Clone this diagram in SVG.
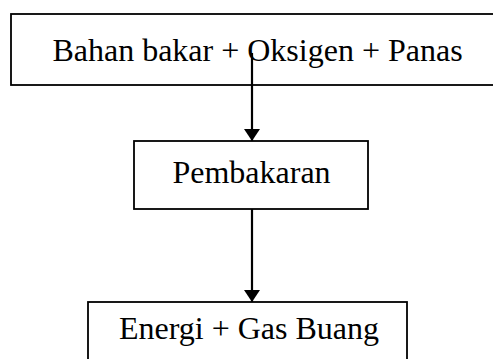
<svg xmlns="http://www.w3.org/2000/svg" width="493" height="359" viewBox="0 0 493 359">
<style>
.box{fill:#fff;stroke:#000;stroke-width:1.8}
.lbl{font-family:"Liberation Serif","Times New Roman",serif;font-size:32px;fill:#000;text-anchor:middle}
.con{stroke:#000;stroke-width:2.2;fill:none}
</style>
<defs>
<marker id="ah" viewBox="0 0 12 16" refX="12" refY="8" markerWidth="12" markerHeight="16" markerUnits="userSpaceOnUse" orient="auto">
<path d="M0,0 L12,8 L0,16 Z" fill="#000"/>
</marker>
</defs>
<g id="n1">
<rect class="box" x="11" y="14" width="490" height="71"/>
<text class="lbl" x="257.5" y="61">Bahan bakar + Oksigen + Panas</text>
</g>
<g id="n2">
<rect class="box" x="134" y="141" width="234" height="68"/>
<text class="lbl" x="251.5" y="183">Pembakaran</text>
</g>
<g id="n3">
<rect class="box" x="88" y="302" width="319" height="70"/>
<text class="lbl" x="249" y="339">Energi + Gas Buang</text>
</g>
<g id="connectors">
<line class="con" x1="252" y1="53" x2="252" y2="141" marker-end="url(#ah)"/>
<line class="con" x1="252" y1="209" x2="252" y2="302" marker-end="url(#ah)"/>
</g>
</svg>
